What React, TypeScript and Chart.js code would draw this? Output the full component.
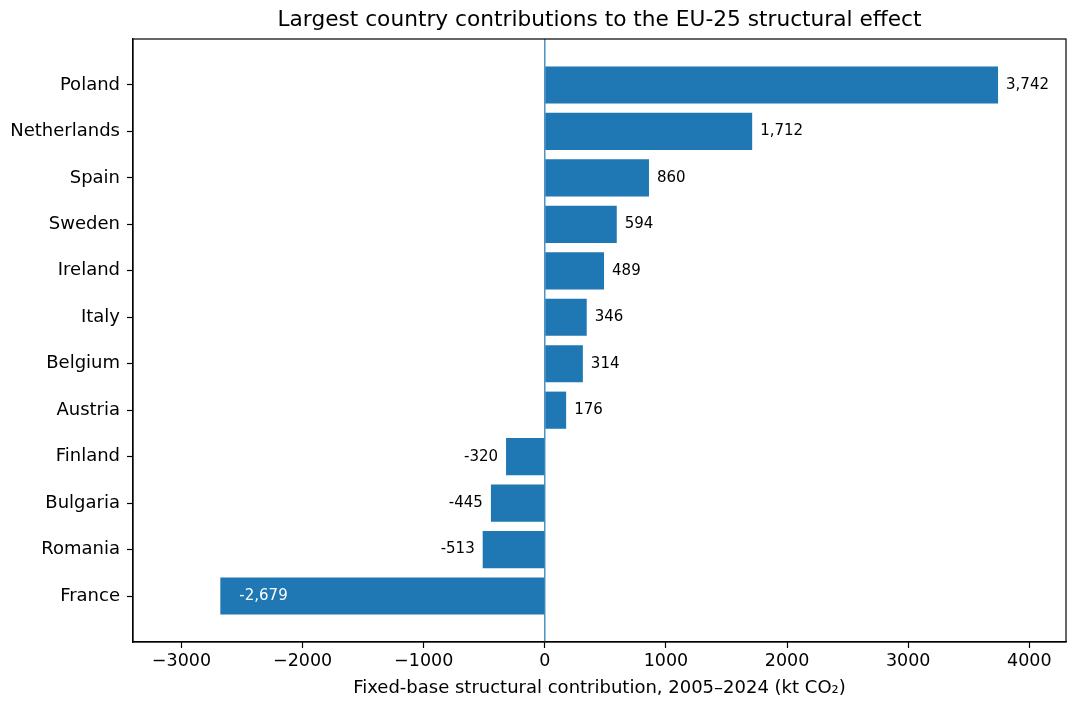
import React, { useEffect, useRef } from "react";
import { Chart, registerables } from "chart.js";

Chart.register(...registerables);

const COUNTRIES = [
  "Poland", "Netherlands", "Spain", "Sweden", "Ireland", "Italy",
  "Belgium", "Austria", "Finland", "Bulgaria", "Romania", "France",
];
const VALUES = [3742, 1712, 860, 594, 489, 346, 314, 176, -320, -445, -513, -2679];
const X_TICKS = [-3000, -2000, -1000, 0, 1000, 2000, 3000, 4000];
const TITLE = "Largest country contributions to the EU-25 structural effect";
const X_TITLE = "Fixed-base structural contribution, 2005\u20132024 (kt CO\u2082)";

const BAR = "#1f77b4";
const FONT = "DejaVu Sans";

export default function App() {
  const ref = useRef<HTMLCanvasElement | null>(null);

  useEffect(() => {
    document.body.style.margin = "0";
    const canvas = ref.current;
    if (!canvas) return;

    const overlay = {
      id: "overlay",
      beforeDatasetsDraw(chart: any) {
        const { ctx, chartArea, scales } = chart;
        const x0 = scales.x.getPixelForValue(0);
        ctx.save();
        ctx.strokeStyle = BAR;
        ctx.lineWidth = 1.2;
        ctx.beginPath();
        ctx.moveTo(x0, chartArea.top);
        ctx.lineTo(x0, chartArea.bottom);
        ctx.stroke();
        ctx.restore();
      },
      afterDatasetsDraw(chart: any) {
        const { ctx, chartArea, scales } = chart;
        ctx.save();
        ctx.font = `15px "${FONT}"`;
        ctx.textBaseline = "middle";
        VALUES.forEach((v, i) => {
          const xp = scales.x.getPixelForValue(v);
          const yp = scales.y.getPixelForValue(i);
          const txt = v.toLocaleString("en-US");
          if (v < -1000) {
            ctx.fillStyle = "#ffffff";
            ctx.textAlign = "left";
            ctx.fillText(txt, xp + 19, yp);
          } else if (v < 0) {
            ctx.fillStyle = "#000000";
            ctx.textAlign = "right";
            ctx.fillText(txt, xp - 8, yp);
          } else {
            ctx.fillStyle = "#000000";
            ctx.textAlign = "left";
            ctx.fillText(txt, xp + 8, yp);
          }
        });
        ctx.strokeStyle = "#000000";
        ctx.lineWidth = 1.2;
        ctx.strokeRect(chartArea.left, chartArea.top, chartArea.right - chartArea.left, chartArea.bottom - chartArea.top);
        // title centred over the axes, like matplotlib
        ctx.fillStyle = "#000000";
        ctx.font = `21.7px "${FONT}"`;
        ctx.textAlign = "center";
        ctx.textBaseline = "middle";
        ctx.fillText(TITLE, (chartArea.left + chartArea.right) / 2, chartArea.top / 2 + 1);
        ctx.restore();
      },
    };

    const chart = new Chart(canvas, {
      type: "bar",
      data: {
        datasets: [
          {
            data: VALUES.map((v, i) => ({ x: v, y: i })),
            backgroundColor: BAR,
            borderWidth: 0,
            barPercentage: 0.8,
            categoryPercentage: 1.0,
          },
        ],
      },
      options: {
        indexAxis: "y",
        animation: false,
        responsive: false,
        devicePixelRatio: 1,
        layout: { padding: { left: 0, right: 13, top: 39, bottom: 0 } },
        plugins: {
          legend: { display: false },
          tooltip: { enabled: false },
          title: { display: false },
        },
        scales: {
          x: {
            type: "linear",
            position: "bottom",
            min: -3400,
            max: 4303,
            afterFit(scale: any) {
              scale.height = 69;
            },
            afterBuildTicks(scale: any) {
              scale.ticks = X_TICKS.map((value) => ({ value }));
            },
            ticks: {
              color: "#000000",
              font: { family: FONT, size: 17.5 },
              padding: 3,
              maxRotation: 0,
              callback: (v: any) => (v < 0 ? "\u2212" + Math.abs(v) : String(v)),
            },
            grid: {
              drawOnChartArea: false,
              drawTicks: true,
              tickLength: 6,
              tickColor: "#000000",
              tickWidth: 1.2,
            },
            border: { display: true, color: "#000000", width: 1.2 },
            title: {
              display: true,
              text: X_TITLE,
              color: "#000000",
              font: { family: FONT, size: 18 },
              padding: { top: 4, bottom: 12 },
            },
          },
          y: {
            type: "linear",
            reverse: true,
            offset: false,
            min: -0.99,
            max: 11.99,
            afterFit(scale: any) {
              scale.width = 133;
            },
            afterBuildTicks(scale: any) {
              scale.ticks = COUNTRIES.map((_, i) => ({ value: i }));
            },
            ticks: {
              color: "#000000",
              font: { family: FONT, size: 18 },
              padding: 7,
              autoSkip: false,
              callback: (v: any) => COUNTRIES[v] ?? "",
            },
            grid: {
              offset: false,
              drawOnChartArea: false,
              drawTicks: true,
              tickLength: 6,
              tickColor: "#000000",
              tickWidth: 1.2,
            },
            border: { display: true, color: "#000000", width: 1.2 },
          },
        },
      },
      plugins: [overlay],
    } as any);

    return () => chart.destroy();
  }, []);

  return (
    <div style={{ width: 1079, height: 711, background: "#ffffff" }}>
      <canvas ref={ref} width={1079} height={711} style={{ display: "block" }} />
    </div>
  );
}
